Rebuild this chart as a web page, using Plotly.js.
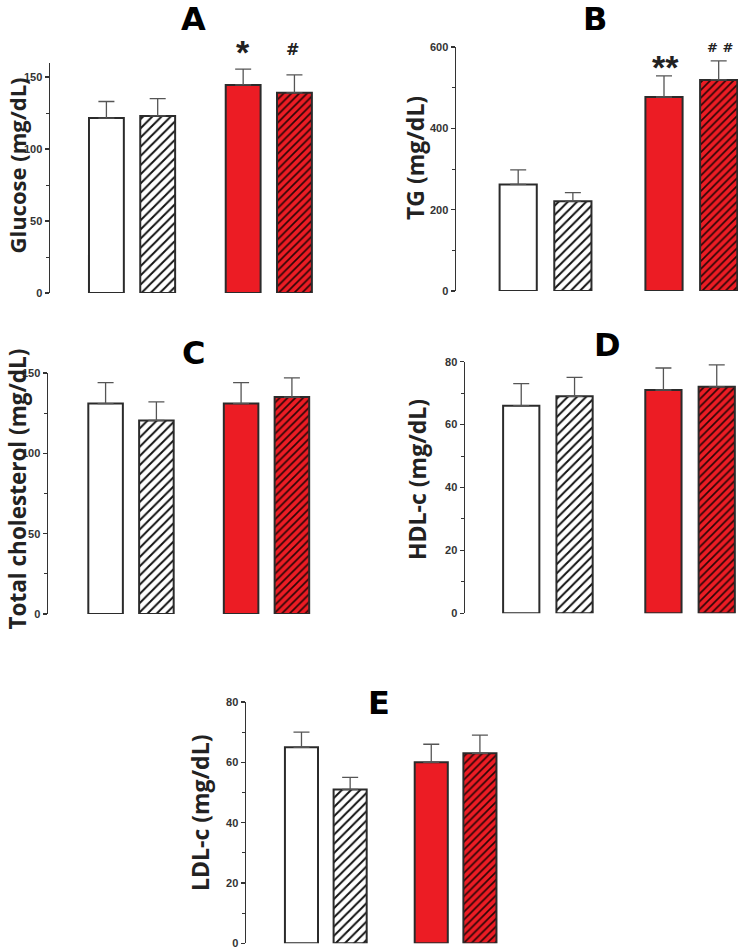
<!DOCTYPE html>
<html>
<head>
<meta charset="utf-8">
<script src="https://cdn.plot.ly/plotly-3.0.1.min.js"></script>
<style>html,body{margin:0;padding:0;background:#fff;}#chart{width:740px;height:950px;}</style>
</head>
<body>
<div id="chart"></div>
<script>
// ---- data ----
var groups = ['Control', 'Treated'];
var glucoseMean = [121.5, 123, 144.5, 139];
var glucoseErr  = [11.5, 12, 11, 12.5];
var tgMean = [262, 221, 477, 519];
var tgErr  = [36, 21, 52, 47];
var tcMean = [131, 120.5, 131, 135];
var tcErr  = [13, 11.5, 13, 12];
var hdlMean = [66, 69, 71, 72];
var hdlErr  = [7, 6, 7, 7];
var ldlMean = [65, 51, 60, 63];
var ldlErr  = [5, 4, 6, 6];
var panelLetters = ['A', 'B', 'C', 'D', 'E'];
var yTitles = ['Glucose (mg/dL)', 'TG (mg/dL)', 'Total cholesterol (mg/dL)', 'HDL-c (mg/dL)', 'LDL-c (mg/dL)'];
var yTickStep = [50, 200, 50, 20, 20];
var yMax = [160, 600, 150, 80, 80];

// ---- styling ----
var W = 740, H = 950;
function px(x) { return x / W; }
function py(y) { return 1 - y / H; }
var RED = '#ec1c24';
var EDGE = '#2b2b2b';

var panels = [
  {mean: glucoseMean, err: glucoseErr, xd: [50, 323.5], yd: [293, 62.6], xr: [-0.6, 1.4]},
  {mean: tgMean, err: tgErr, xd: [456, 738], yd: [291, 47], xr: [-0.614, 1.32]},
  {mean: tcMean, err: tcErr, xd: [48, 320.7], yd: [614, 373], xr: [-0.6125, 1.4]},
  {mean: hdlMean, err: hdlErr, xd: [465, 737], yd: [613.3, 361.7], xr: [-0.583, 1.33]},
  {mean: ldlMean, err: ldlErr, xd: [246, 507.5], yd: [943.3, 702], xr: [-0.615, 1.4]}
];

// bar styles: index in mean array -> group, fill, hatch colour
var barStyles = [
  {g: 0, og: 'plain', fill: '#ffffff', hatch: null, hs: 6},
  {g: 0, og: 'hatch', fill: '#ffffff', hatch: '#111111', hs: 6.5},
  {g: 1, og: 'plain', fill: RED, hatch: null, hs: 6},
  {g: 1, og: 'hatch', fill: RED, hatch: '#2a0606', hs: 5.5}
];

var data = [];
var layout = {
  width: W, height: H,
  margin: {l: 0, r: 0, t: 0, b: 0},
  paper_bgcolor: '#fff', plot_bgcolor: 'rgba(0,0,0,0)',
  showlegend: false,
  barmode: 'group',
  bargap: 0.25,
  bargroupgap: 0.32,
  annotations: []
};

panels.forEach(function (p, i) {
  var sfx = i === 0 ? '' : String(i + 1);
  var xa = 'x' + sfx, ya = 'y' + sfx;
  barStyles.forEach(function (bs, k) {
    var marker = {color: bs.fill, line: {color: EDGE, width: 2}};
    if (bs.hatch) {
      marker.pattern = {shape: '/', fgcolor: bs.hatch, bgcolor: bs.fill, size: bs.hs, solidity: 0.3, fillmode: 'replace'};
    }
    data.push({
      type: 'bar', x: [groups[bs.g]], y: [p.mean[k]], xaxis: xa, yaxis: ya,
      offsetgroup: bs.og,
      marker: marker,
      error_y: {type: 'data', symmetric: false, array: [p.err[k]], arrayminus: [0],
                color: '#555', thickness: 1.3, width: 8},
      hoverinfo: 'skip'
    });
  });
  layout['xaxis' + sfx] = {
    domain: [px(p.xd[0]), px(p.xd[1])], range: p.xr, anchor: ya,
    type: 'category', categoryarray: groups,
    showline: false, showticklabels: false, ticks: '', showgrid: false, zeroline: false, fixedrange: true
  };
  layout['yaxis' + sfx] = {
    domain: [py(p.yd[0]), py(p.yd[1])], range: [0, yMax[i]], anchor: xa,
    showline: true, linecolor: '#333', linewidth: 1.5,
    ticks: 'outside', ticklen: 4, tickwidth: 1.3, tickcolor: '#333',
    dtick: yTickStep[i], tick0: 0,
    minor: {ticks: 'outside', ticklen: 3, tickwidth: 1, tickcolor: '#333', dtick: yTickStep[i] / 2, showgrid: false},
    tickfont: {family: 'Liberation Sans, Arial, sans-serif', size: 11, color: '#333', weight: 700},
    showgrid: false, zeroline: false, fixedrange: true
  };
});

// panel letters
var letterPos = [[193, 19], [595, 19], [193, 353], [607, 345], [379, 703]];
letterPos.forEach(function (lp, i) {
  layout.annotations.push({
    text: panelLetters[i], xref: 'paper', yref: 'paper', x: px(lp[0]), y: py(lp[1]),
    xanchor: 'center', yanchor: 'middle', showarrow: false,
    font: {family: 'DejaVu Sans, sans-serif', size: 32, color: '#000', weight: 700}
  });
});

// y-axis titles
var titlePos = [[16.5, 166], [415, 158], [16.5, 489], [417, 480], [200, 813]];
var titleSize = [22, 23, 22.5, 23, 23];
titlePos.forEach(function (tp, i) {
  layout.annotations.push({
    text: yTitles[i], xref: 'paper', yref: 'paper', x: px(tp[0]), y: py(tp[1]),
    xanchor: 'center', yanchor: 'middle', showarrow: false, textangle: -90, borderpad: 0,
    font: {family: 'Open Sans, sans-serif', size: titleSize[i], color: '#222', weight: 700}
  });
});

// significance marks
var marks = [
  {t: '*', x: 243, y: 52, s: 34, f: 'Liberation Sans, Arial, sans-serif'},
  {t: '#', x: 292, y: 50, s: 16, f: 'DejaVu Sans, sans-serif'},
  {t: '**', x: 665, y: 67, s: 34, f: 'Liberation Sans, Arial, sans-serif'},
  {t: '# #', x: 720, y: 47, s: 13, f: 'DejaVu Sans, sans-serif'}
];
marks.forEach(function (m) {
  layout.annotations.push({
    text: m.t, xref: 'paper', yref: 'paper', x: px(m.x), y: py(m.y),
    xanchor: 'center', yanchor: 'middle', showarrow: false,
    font: {family: m.f, size: m.s, color: '#222', weight: 700}
  });
});

Plotly.newPlot('chart', data, layout, {staticPlot: true, displayModeBar: false});
</script>
</body>
</html>
